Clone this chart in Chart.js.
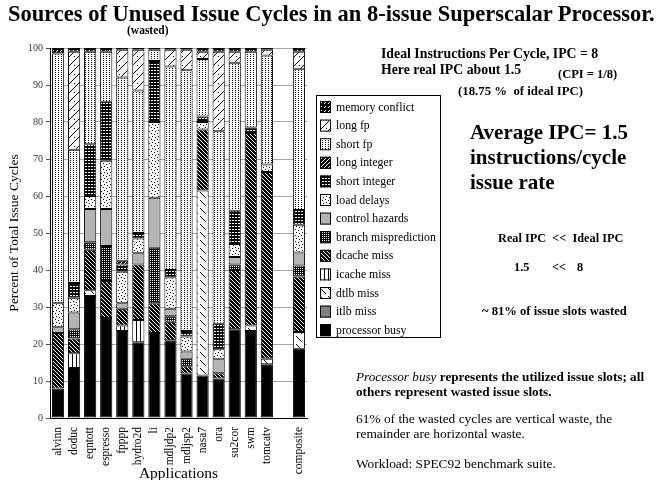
<!DOCTYPE html>
<html>
<head>
<meta charset="utf-8">
<script src="https://cdn.jsdelivr.net/npm/chart.js@4"></script>
<style>
  body { margin: 0; background: #fff; }
  #wrap { position: relative; width: 665px; height: 480px; overflow: hidden; font-family: 'Liberation Serif', serif; color: #000; }
  #chart { position: absolute; left: 0; top: 0; }
  .t { position: absolute; white-space: nowrap; line-height: 1; }
  .b { font-weight: bold; }
</style>
</head>
<body>
<div id="wrap">
  <canvas id="chart" width="665" height="480"></canvas>
  <div class="t b" style="left:8px;top:3px;font-size:22.5px;">Sources of Unused Issue Cycles in an 8-issue Superscalar Processor.</div>
  <div class="t b" style="left:127px;top:25px;font-size:11.5px;">(wasted)</div>

  <div class="t b" style="left:381px;top:47px;font-size:13.8px;">Ideal Instructions Per Cycle, IPC = 8</div>
  <div class="t b" style="left:381px;top:63px;font-size:13.8px;">Here real IPC about 1.5</div>
  <div class="t b" style="left:558px;top:68px;font-size:12.5px;">(CPI = 1/8)</div>
  <div class="t b" style="left:458px;top:85px;font-size:12.8px;">(18.75 %&nbsp; of ideal IPC)</div>

  <div class="t b" style="left:470px;top:122px;font-size:21px;">Average IPC= 1.5</div>
  <div class="t b" style="left:470px;top:147px;font-size:21px;">instructions/cycle</div>
  <div class="t b" style="left:470px;top:172px;font-size:21px;">issue rate</div>

  <div class="t b" style="left:498px;top:232px;font-size:12.3px;">Real IPC&nbsp; &lt;&lt;&nbsp; Ideal IPC</div>
  <div class="t b" style="left:514px;top:261px;font-size:12.3px;">1.5</div>
  <div class="t b" style="left:552px;top:261px;font-size:12.3px;">&lt;&lt;</div>
  <div class="t b" style="left:577px;top:261px;font-size:12.3px;">8</div>
  <div class="t b" style="left:482px;top:305px;font-size:12.6px;">~ 81% of issue slots wasted</div>

  <div class="t" style="left:356px;top:370px;font-size:13.2px;"><i>Processor busy</i> <b>represents the utilized issue slots; all</b></div>
  <div class="t b" style="left:356px;top:385px;font-size:13.2px;">others represent wasted issue slots.</div>
  <div class="t" style="left:356px;top:412px;font-size:13.4px;">61% of the wasted cycles are vertical waste, the</div>
  <div class="t" style="left:356px;top:427px;font-size:13.4px;">remainder are horizontal waste.</div>
  <div class="t" style="left:356px;top:457px;font-size:13.4px;">Workload: SPEC92 benchmark suite.</div>
</div>
<script>
// categories (one blank slot before composite)
const apps = ['alvinn', 'doduc', 'eqntott', 'espresso', 'fpppp', 'hydro2d', 'li', 'mdljdp2',
    'mdljsp2', 'nasa7', 'ora', 'su2cor', 'swm', 'tomcatv', '', 'composite'];

// percent of issue cycles, stacked from the bottom up
const processorBusy = [8, 13.5, 33, 27, 23.5, 20.5, 23, 21, 12, 11.5, 10.7, 24, 23.5, 14.5, 0, 18.75];
const itlbMiss      = [0, 0, 0, 0, 0, 0, 0, 0, 0, 0, 0, 0, 0, 0, 0, 0];
const dtlbMiss      = [0, 0, 1.5, 0, 0, 0, 0, 0, 0, 50, 0, 0, 1.5, 1.5, 0, 4.5];
const icacheMiss    = [0, 4, 0, 0, 1.5, 6, 0, 0, 0, 0, 0, 0, 0, 0, 0, 0];
const dcacheMiss    = [15, 4, 11, 10, 4.5, 15, 8, 5, 2, 16.5, 1.4, 16, 52, 50.5, 0, 15];
const branchMisp    = [0, 2.5, 2, 9.5, 0, 0, 15, 1.5, 2, 0, 0, 1.5, 0, 0, 0, 3];
const controlHaz    = [1.5, 4.5, 9, 10, 1.5, 3, 13.5, 2, 2, 0, 3.8, 2, 0, 0, 0, 3.5];
const loadDelays    = [6.5, 4, 3.5, 13, 8.5, 4, 20.5, 8.5, 4, 2, 2.7, 3.5, 0, 2, 0, 7.5];
const shortInt      = [0, 4, 14, 16, 2, 1.5, 16.5, 2, 1.5, 1.5, 6.9, 9, 1.5, 0, 0, 4];
const longInt       = [0, 0, 0, 0, 1, 0, 0, 0, 0, 0, 0, 0, 0, 0, 0, 0];
const shortFp       = [67.5, 36, 25, 13.5, 49.5, 38.5, 3, 55, 70.5, 15.5, 52, 40, 20.5, 29.5, 0, 38];
const longFp        = [0, 26.5, 0, 0, 7.5, 11, 0, 4.5, 5.5, 2, 21.5, 3, 0, 1.5, 0, 4.75];
const memConflict   = [1.5, 1, 1, 1, 0.5, 0.5, 0.5, 0.5, 0.5, 1, 1, 1, 1, 0.5, 0, 1];

const yTicks = [0, 10, 20, 30, 40, 50, 60, 70, 80, 90, 100];

// little bitmap fills, like the old print patterns
const ctxTmp = document.createElement('canvas').getContext('2d');
function pattern(w, h, bg, fg, pixels) {
    const c = document.createElement('canvas');
    c.width = w; c.height = h;
    const g = c.getContext('2d');
    g.fillStyle = bg;
    g.fillRect(0, 0, w, h);
    g.fillStyle = fg;
    pixels.forEach(p => g.fillRect(p[0], p[1], 1, 1));
    return ctxTmp.createPattern(c, 'repeat');
}

const fills = {
    memConflict: pattern(4, 4, '#000', '#fff', [[0, 3], [1, 2]]),
    longFp: pattern(9, 9, '#fff', '#000', [[8, 0], [7, 1], [6, 2], [5, 3], [4, 4], [3, 5], [2, 6], [1, 7], [0, 8], [2, 2]]),
    shortFp: pattern(3, 2, '#fff', '#000', [[1, 0]]),
    longInt: pattern(4, 4, '#000', '#fff', [[3, 0], [2, 1], [1, 2], [0, 3]]),
    shortInt: pattern(3, 3, '#000', '#fff', [[1, 1], [2, 1]]),
    loadDelays: pattern(6, 6, '#fff', '#000', [[1, 1], [4, 2], [2, 4], [5, 5]]),
    controlHaz: '#b4b4b4',
    branchMisp: pattern(2, 2, '#000', '#fff', [[0, 0]]),
    dcacheMiss: pattern(4, 4, '#000', '#fff', [[0, 0], [1, 1], [2, 2], [3, 3]]),
    icacheMiss: pattern(4, 1, '#fff', '#000', [[0, 0]]),
    dtlbMiss: pattern(8, 8, '#fff', '#000', [[0, 0], [1, 1], [2, 2], [3, 3], [4, 4], [5, 5]]),
    itlbMiss: '#808080',
    processorBusy: '#000'
};

// bottom-up stacking order
const series = [
    ['processor busy', processorBusy, fills.processorBusy],
    ['itlb miss', itlbMiss, fills.itlbMiss],
    ['dtlb miss', dtlbMiss, fills.dtlbMiss],
    ['icache miss', icacheMiss, fills.icacheMiss],
    ['dcache miss', dcacheMiss, fills.dcacheMiss],
    ['branch misprediction', branchMisp, fills.branchMisp],
    ['control hazards', controlHaz, fills.controlHaz],
    ['load delays', loadDelays, fills.loadDelays],
    ['short integer', shortInt, fills.shortInt],
    ['long integer', longInt, fills.longInt],
    ['short fp', shortFp, fills.shortFp],
    ['long fp', longFp, fills.longFp],
    ['memory conflict', memConflict, fills.memConflict]
];

// legend box drawn by hand, top entry = top of stack
const legendBox = {
    id: 'legendBox',
    afterDraw(chart) {
        const ctx = chart.ctx;
        ctx.save();
        ctx.strokeStyle = '#000';
        ctx.lineWidth = 1;
        ctx.strokeRect(316.5, 95.5, 124, 242);
        ctx.font = '11.8px "Liberation Serif"';
        ctx.textBaseline = 'middle';
        const items = series.slice().reverse();
        items.forEach((s, i) => {
            const y = 101 + i * 18.6;
            ctx.fillStyle = s[2];
            ctx.fillRect(320, y, 11, 12);
            ctx.strokeRect(320.5, y + 0.5, 10, 11);
            ctx.fillStyle = '#000';
            ctx.fillText(s[0], 336, y + 6.5);
        });
        ctx.restore();
    }
};

new Chart(document.getElementById('chart'), {
    type: 'bar',
    data: {
        labels: apps,
        datasets: series.map(s => ({
            label: s[0],
            data: s[1],
            backgroundColor: s[2],
            borderColor: '#000',
            borderWidth: 1,
            borderSkipped: false,
            barPercentage: 0.76,
            categoryPercentage: 1
        }))
    },
    options: {
        responsive: false,
        animation: false,
        layout: { padding: { left: 4, right: 358, top: 48, bottom: 0 } },
        plugins: { legend: { display: false }, tooltip: { enabled: false } },
        scales: {
            x: {
                stacked: true,
                grid: { display: false },
                border: { color: '#000' },
                ticks: {
                    minRotation: 90, maxRotation: 90, autoSkip: false, padding: 1,
                    color: '#000', font: { family: 'Liberation Serif', size: 11.5 }
                },
                title: { display: true, text: 'Applications', color: '#000',
                    padding: { top: 0, bottom: -3 },
                    font: { family: 'Liberation Serif', size: 15.5 } },
                afterFit: s => { s.height = 62; }
            },
            y: {
                stacked: true,
                min: 0, max: 100,
                afterBuildTicks: s => { s.ticks = yTicks.map(v => ({ value: v })); },
                grid: { color: '#a8a8a8', tickLength: 4, tickColor: '#555' },
                border: { color: '#000' },
                ticks: { color: '#333', padding: 3, font: { family: 'Liberation Serif', size: 10 } },
                title: { display: true, text: 'Percent of Total Issue Cycles', color: '#000',
                    padding: { top: 2, bottom: 2 },
                    font: { family: 'Liberation Serif', size: 13.5 } },
                afterFit: s => { s.width = 46; }
            }
        }
    },
    plugins: [legendBox]
});
</script>
</body>
</html>
